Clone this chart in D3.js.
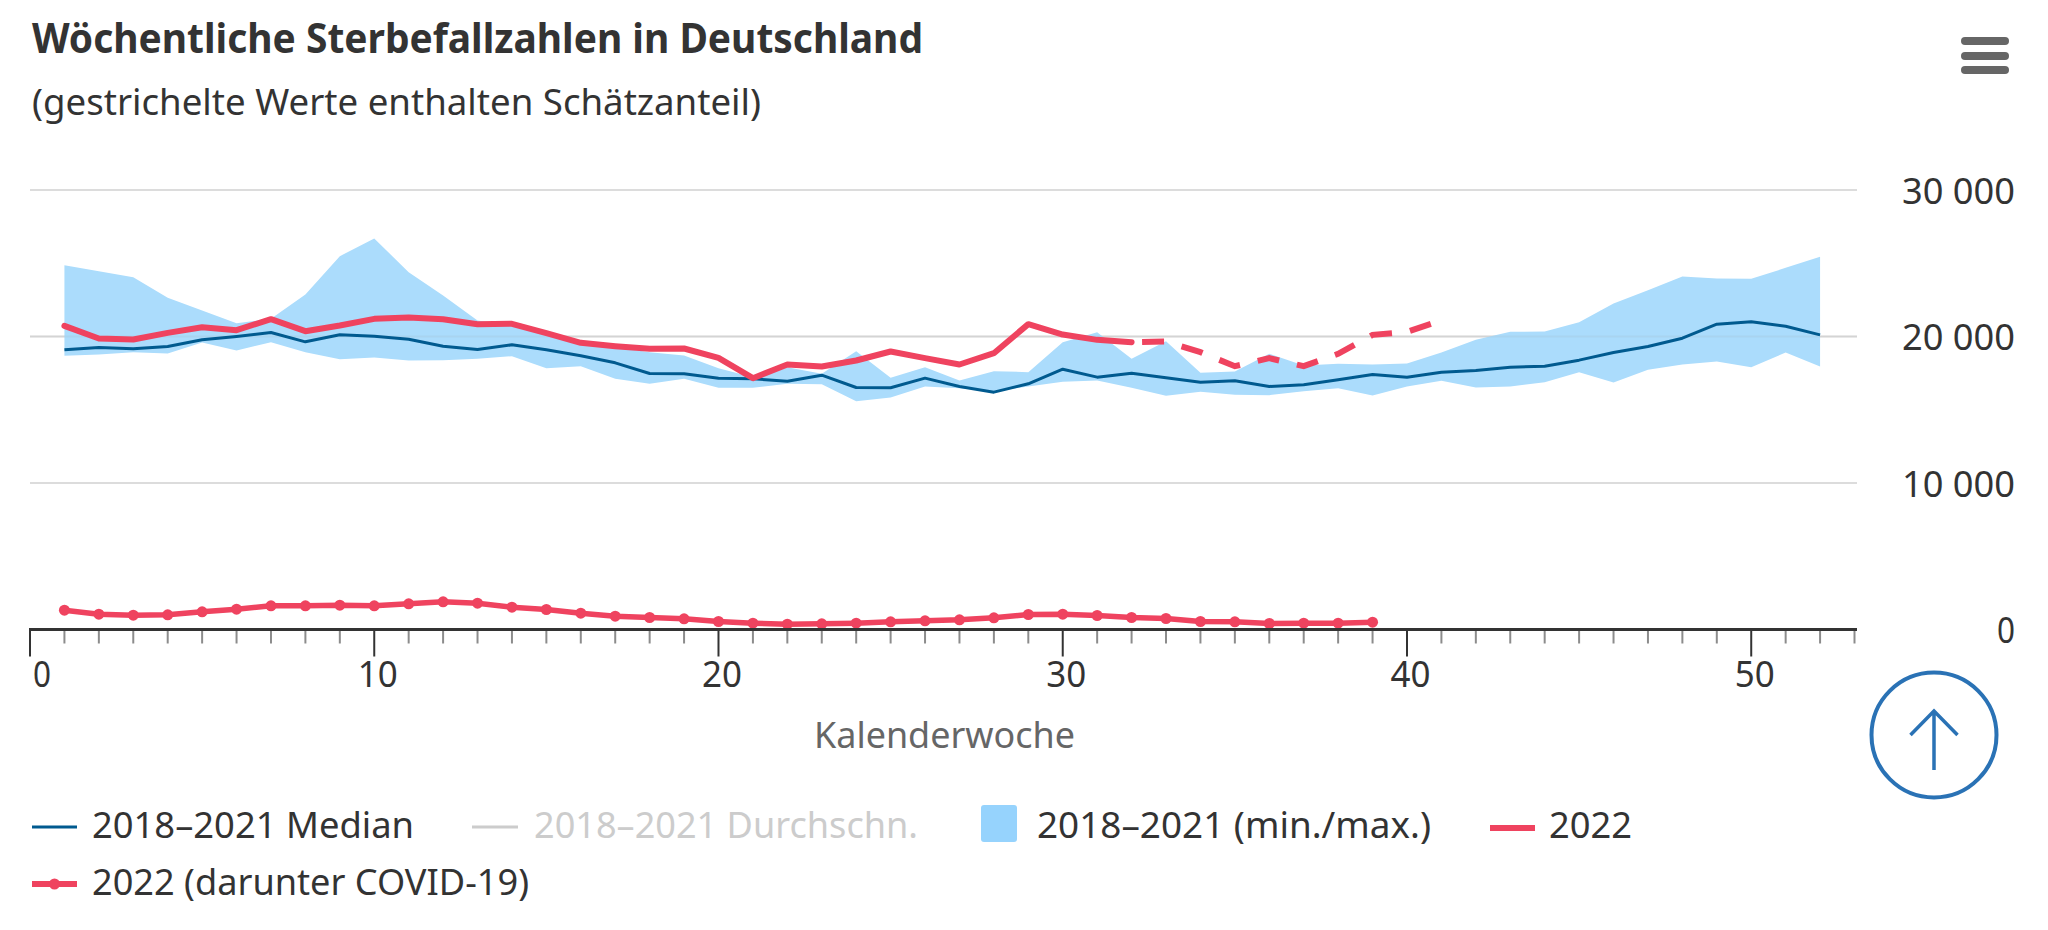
<!DOCTYPE html>
<html lang="de">
<head>
<meta charset="utf-8">
<title>Wöchentliche Sterbefallzahlen in Deutschland</title>
<script src="https://cdn.jsdelivr.net/npm/d3@7/dist/d3.min.js"></script>
<style>
html,body{margin:0;padding:0;background:#fff;}
svg{display:block;}
text{font-family:"Noto Sans",sans-serif;}
</style>
</head>
<body>
<svg id="chart" width="2048" height="930"></svg>
<script>
const weeks = d3.range(1, 53);
const bandMax = [24869,24459,24050,22639,21775,20910,21206,22867,25483,26689,24391,22798,21092,20751,20296,19613,19272,18931,18703,17839,17225,17907,17452,18999,17179,17907,16997,17634,17566,19613,20296,18476,19681,17520,17611,18817,18021,18135,18089,18157,18908,19772,20318,20341,20978,22252,23162,24095,23958,23936,24687,25437];
const bandMin = [18681,18772,18931,18840,19590,19045,19613,18931,18453,18567,18362,18385,18476,18658,17839,17975,17110,16770,17110,16497,16497,16770,16747,15587,15837,16588,16474,16246,16588,16906,16997,16497,15950,16224,16019,15996,16269,16474,15973,16588,16974,16519,16588,16883,17566,16861,17725,18089,18294,17907,18908,17952];
const median = [19090,19250,19158,19318,19772,20000,20273,19636,20114,20023,19818,19340,19113,19431,19090,18680,18203,17475,17452,17156,17110,16952,17361,16519,16497,17156,16588,16201,16770,17770,17225,17497,17179,16883,16974,16588,16701,17042,17407,17225,17566,17680,17907,17975,18385,18908,19318,19886,20842,21001,20705,20114];
const deaths2022 = [20728,19864,19795,20250,20637,20432,21183,20364,20751,21206,21297,21183,20842,20865,20228,19568,19340,19158,19180,18544,17156,18090,17952,18362,18976,18521,18090,18862,20842,20136,19772,19613,19659,18931,17975,18521,17975,18817,20114,20318,21100];
const covid2022 = [1320,1046,978,1000,1206,1388,1615,1615,1660,1615,1752,1888,1797,1524,1365,1115,910,819,728,546,432,364,387,432,523,591,660,796,1024,1046,955,819,751,546,523,409,432,432,500];
const lastSolidWeek = 32;
const yTickValues = [0,10000,20000,30000];
const xTickValues = [0,10,20,30,40,50];
const titleText = "Wöchentliche Sterbefallzahlen in Deutschland";
const subtitleText = "(gestrichelte Werte enthalten Schätzanteil)";
const xAxisTitle = "Kalenderwoche";

const RED = "#ef435f", NAVY = "#005a8f", BAND = "#abdcfc", SWATCH = "#96d3fd", INK = "#333";
const svg = d3.select("#chart");
const x = d3.scaleLinear().domain([0, 53]).range([30, 1854.5]);
const y = d3.scaleLinear().domain([0, 30000]).range([629.5, 190]);

// helper: real text fitted to the measured width of the reference
function label(px, py, str, size, width, opts = {}) {
  const t = svg.append("text").attr("x", px).attr("y", py).text(str)
    .attr("font-size", size)
    .attr("fill", opts.fill || INK)
    .attr("font-weight", opts.weight || 400)
    .attr("text-anchor", opts.anchor || "start");
  if (width) t.attr("textLength", width).attr("lengthAdjust", "spacingAndGlyphs");
  return t;
}

// titles
label(32, 53, titleText, 42, 891, {weight: 700, fill: "#333"});
label(32, 115, subtitleText, 37, 729);

// gridlines
svg.append("g").selectAll("line").data(yTickValues.filter(d => d > 0)).join("line")
  .attr("x1", 30).attr("x2", 1857).attr("y1", d => y(d)).attr("y2", d => y(d))
  .attr("stroke", "#dcdcdc").attr("stroke-width", 2);

// band
const area = d3.area().x((d, i) => x(weeks[i])).y0((d, i) => y(bandMin[i])).y1(d => y(d));
svg.append("path").datum(bandMax).attr("d", area).attr("fill", BAND);

// gridline shows faintly through band
svg.append("line").attr("x1", 30).attr("x2", 1857).attr("y1", y(20000)).attr("y2", y(20000))
  .attr("stroke", "#999").attr("stroke-opacity", 0.12).attr("stroke-width", 2);

// median
const lineOf = arr => d3.line().x((d, i) => x(weeks[i])).y(d => y(d))(arr);
svg.append("path").attr("d", lineOf(median)).attr("fill", "none")
  .attr("stroke", NAVY).attr("stroke-width", 3).attr("stroke-linejoin", "round");

// 2022 solid and dashed parts
const solidPts = deaths2022.map((v, i) => [weeks[i], v]).filter(d => d[0] <= lastSolidWeek);
const dashPts = deaths2022.map((v, i) => [weeks[i], v]).filter(d => d[0] >= lastSolidWeek);
const line2 = d3.line().x(d => x(d[0])).y(d => y(d[1]));
svg.append("path").attr("d", line2(solidPts)).attr("fill", "none")
  .attr("stroke", RED).attr("stroke-width", 6).attr("stroke-linejoin", "round").attr("stroke-linecap", "round");
svg.append("path").attr("d", line2(dashPts)).attr("fill", "none")
  .attr("stroke", RED).attr("stroke-width", 6).attr("stroke-dasharray", "22 18.2").attr("stroke-dashoffset", -10.5);

// covid
svg.append("path").attr("d", lineOf(covid2022)).attr("fill", "none")
  .attr("stroke", RED).attr("stroke-width", 5.5).attr("stroke-linejoin", "round");
svg.append("g").selectAll("circle").data(covid2022).join("circle")
  .attr("cx", (d, i) => x(weeks[i])).attr("cy", d => y(d)).attr("r", 5.5).attr("fill", RED);

// x axis
const axis = svg.append("g").attr("transform", `translate(0,${y(0)})`);
axis.selectAll("line.minor").data(d3.range(1, 54).filter(d => d % 10)).join("line")
  .attr("class", "minor").attr("x1", d => x(d)).attr("x2", d => x(d)).attr("y1", 0).attr("y2", 14)
  .attr("stroke", "#8c8c8c").attr("stroke-width", 2);
axis.selectAll("line.major").data(xTickValues).join("line")
  .attr("class", "major").attr("x1", d => x(d)).attr("x2", d => x(d)).attr("y1", 0).attr("y2", 27)
  .attr("stroke", "#333").attr("stroke-width", 2);
axis.append("line").attr("x1", 29).attr("x2", 1857).attr("y1", 0).attr("y2", 0)
  .attr("stroke", "#333").attr("stroke-width", 3);
xTickValues.forEach(d => {
  label(d === 0 ? 42 : x(d) + 3.5, 687, String(d), 36, d === 0 ? 18 : 40, {anchor: "middle"});
});

// y axis labels
yTickValues.forEach(d => {
  const s = d3.format(",")(d).replace(/,/g, " ");
  label(2015, y(d) + 13.5, s, 36, d === 0 ? 18 : 113, {anchor: "end"});
});

label(814, 748, xAxisTitle, 37, 261, {fill: "#666"});

// legend
const legendLines = [
  {x1: 32, x2: 77, yy: 827, c: NAVY, w: 3},
  {x1: 472, x2: 518, yy: 827, c: "#cccccc", w: 3},
  {x1: 1490, x2: 1535, yy: 828, c: RED, w: 6},
  {x1: 32, x2: 77, yy: 884, c: RED, w: 6}
];
svg.append("g").selectAll("line").data(legendLines).join("line")
  .attr("x1", d => d.x1).attr("x2", d => d.x2).attr("y1", d => d.yy).attr("y2", d => d.yy)
  .attr("stroke", d => d.c).attr("stroke-width", d => d.w);
svg.append("circle").attr("cx", 54.5).attr("cy", 884).attr("r", 5.5).attr("fill", RED);
svg.append("rect").attr("x", 981).attr("y", 805).attr("width", 36).attr("height", 37).attr("rx", 3).attr("fill", SWATCH);
label(92, 838, "2018–2021 Median", 36, 322);
label(534, 838, "2018–2021 Durchschn.", 36, 384, {fill: "#cccccc"});
label(1037, 838, "2018–2021 (min./max.)", 36, 394);
label(1549, 838, "2022", 36, 83);
label(92, 895, "2022 (darunter COVID-19)", 36, 437);

// menu icon
svg.append("g").selectAll("line").data([41, 56, 70]).join("line")
  .attr("x1", 1965).attr("x2", 2005).attr("y1", d => d).attr("y2", d => d)
  .attr("stroke", "#666").attr("stroke-width", 8).attr("stroke-linecap", "round");

// back-to-top button
const btn = svg.append("g").attr("fill", "none").attr("stroke", "#2a72b5");
btn.append("circle").attr("cx", 1934).attr("cy", 735).attr("r", 62.5).attr("stroke-width", 4);
btn.append("path").attr("d", "M1934 770V711M1910.5 735L1934 711L1957.5 735").attr("stroke-width", 3.5);
</script>
</body>
</html>
